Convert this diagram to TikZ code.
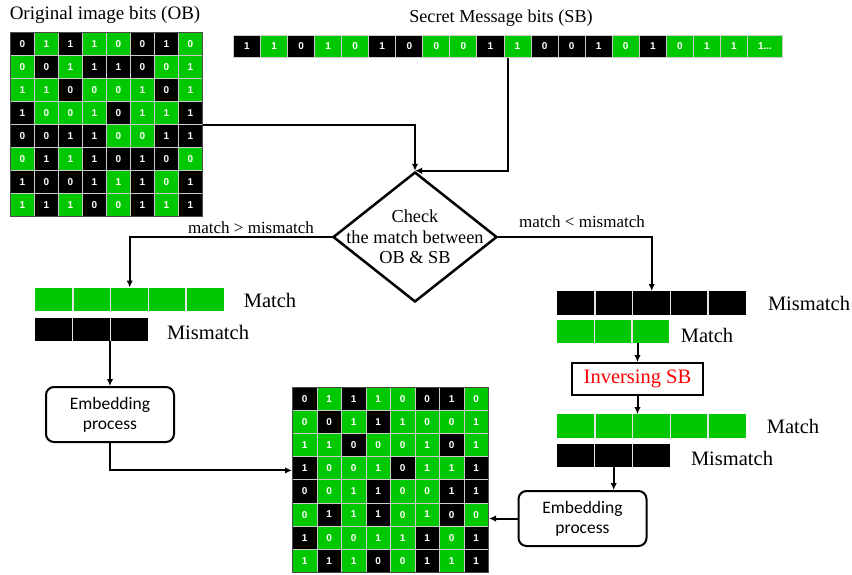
\documentclass[tikz,border=0pt]{standalone}
\usepackage{fontspec}
\setmainfont{Liberation Serif}
\newfontfamily\carlito{Carlito}
\newfontfamily\bitsans{Liberation Sans}
\usetikzlibrary{shapes.geometric,arrows.meta,calc}
\definecolor{cG}{RGB}{0,200,0}
\colorlet{cB}{black}
\tikzset{
  conn/.style={line width=2pt, -{Latex[length=7pt,width=6.5pt]}},
  bitcell/.style={draw=white!80!black, line width=1pt, inner sep=0pt, anchor=north west,
    text=white, font=\bitsans\bfseries\fontsize{10}{10}\selectfont},
  gridframe/.style={draw=black!70, line width=1pt, inner sep=0pt, anchor=north west},
  sbcell/.style={bitcell, minimum width=27.05pt, minimum height=22pt},
  bar/.style={inner sep=0pt, anchor=north west, minimum height=23.5pt},
  divider/.style={white!90!black, line width=1.5pt},
  lbl/.style={font=\fontsize{20.5}{24}\selectfont, inner sep=0pt},
  blbl/.style={font=\fontsize{17}{20}\selectfont, inner sep=0pt},
  embox/.style={draw, line width=2pt, rounded corners=8pt, minimum width=128pt, minimum height=55pt,
    inner sep=0pt, align=center, font=\carlito\fontsize{17.5}{20}\selectfont},
}
\newcommand{\drawbitgrid}[6]{%
  \foreach \row [count=\r] in {#6} {
    \foreach \v/\k [count=\c] in \row {
      \node[bitcell, fill=c\k, minimum width=#4pt, minimum height=#5pt] at ({#2+(\c-1)*#4},{#3+(\r-1)*#5}) {\v};
    }
  }
  \node[gridframe, minimum width=8*#4pt, minimum height=8*#5pt] (#1) at (#2,#3) {};
}
\begin{document}
\begin{tikzpicture}[x=1pt,y=-1pt]
\useasboundingbox (0,0) rectangle (852,574);
\fill[white] (0,0) rectangle (852,574);

% titles
\node[font=\fontsize{19}{22}\selectfont, inner sep=0pt] (obt) at (105,15) {Original image bits (OB)};
\node[font=\fontsize{18.2}{22}\selectfont, inner sep=0pt] (sbt) at (501,18) {Secret Message bits (SB)};

% original grid
\drawbitgrid{ob}{10}{32}{24}{23}{
 {0/B,1/G,1/B,1/G,0/G,0/B,1/B,0/G},
 {0/G,0/B,1/G,1/B,1/B,0/B,0/G,1/G},
 {1/G,1/G,0/B,0/G,0/G,1/G,0/B,1/G},
 {1/B,0/G,0/G,1/G,0/B,1/G,1/G,1/B},
 {0/B,0/B,1/B,1/B,0/G,0/G,1/B,1/B},
 {0/G,1/B,1/G,1/B,0/B,1/B,0/B,0/G},
 {1/B,0/B,0/B,1/B,1/G,1/B,0/G,1/B},
 {1/G,1/B,1/G,0/B,0/G,1/B,1/G,1/B}}

% output grid
\drawbitgrid{og}{292}{387}{24.5}{23.1}{
 {0/B,1/G,1/B,1/G,0/G,0/B,1/B,0/G},
 {0/G,0/B,1/G,1/B,1/G,0/G,0/G,1/G},
 {1/G,1/G,0/B,0/G,0/G,1/G,0/B,1/G},
 {1/B,0/G,0/G,1/G,0/B,1/G,1/G,1/B},
 {0/B,0/G,1/G,1/B,0/G,0/G,1/B,1/B},
 {0/G,1/B,1/G,1/B,0/G,1/G,0/B,0/G},
 {1/B,0/G,0/G,1/G,1/G,1/B,0/G,1/B},
 {1/G,1/B,1/G,0/B,0/G,1/B,1/G,1/B}}

% secret message strip
\foreach \v/\k [count=\i] in {1/B,1/G,0/B,1/G,0/G,1/B,0/B,0/G,0/G,1/B,1/G,0/B,0/B,1/B,0/G,1/B,0/G,1/G,1/G}
  \node[sbcell, fill=c\k] (sb\i) at ({233+(\i-1)*27.05},35) {\v};
\node[sbcell, fill=cG, minimum width=35pt] (sb20) at (747,35) {1...};

% decision diamond
\node[diamond, draw, line width=2.5pt, minimum width=164pt, minimum height=130pt, inner sep=0pt] (chk) at (415,237) {};
\node[align=center, font=\fontsize{18.3}{20.5}\selectfont, inner sep=0pt] (chkt) at (chk.center) {Check\\the match between\\OB \& SB};

\draw[conn] (ob.east) -| (chk.north);
\draw[conn] ([xshift=4.5pt]sb11.south west) |- (chk.north);

\node[blbl] (lcond) at (251,228) {match > mismatch};
\node[blbl] (rcond) at (582,222) {match < mismatch};

% left branch bars
\node[bar, fill=cG, minimum width=189pt] (lm) at (35,287.5) {};
\foreach \i in {1,...,4} \draw[divider] ([xshift=\i*37.8pt]lm.north west) -- ([xshift=\i*37.8pt]lm.south west);
\node[bar, fill=cB, minimum width=113pt] (lmm) at (35,317.5) {};
\foreach \i in {1,2} \draw[divider] ([xshift=\i*37.7pt]lmm.north west) -- ([xshift=\i*37.7pt]lmm.south west);
\node[lbl] (lmt) at (270,300) {Match};
\node[lbl] (lmmt) at (208,332) {Mismatch};

% right branch bars
\node[bar, fill=cB, minimum width=189pt] (rmm) at (557,291) {};
\foreach \i in {1,...,4} \draw[divider] ([xshift=\i*37.8pt]rmm.north west) -- ([xshift=\i*37.8pt]rmm.south west);
\node[bar, fill=cG, minimum width=112pt] (rm) at (557,319.5) {};
\foreach \i in {1,2} \draw[divider] ([xshift=\i*37.4pt]rm.north west) -- ([xshift=\i*37.4pt]rm.south west);
\node[lbl] (rmmt) at (809,303) {Mismatch};
\node[lbl] (rmt) at (707,335) {Match};

\node[draw, line width=2pt, minimum width=131pt, minimum height=32pt, inner sep=0pt, text=red,
  font=\fontsize{20.5}{24}\selectfont] (inv) at (637.5,379) {Inversing SB};

\node[bar, fill=cG, minimum width=189pt] (rm2) at (557,414) {};
\foreach \i in {1,...,4} \draw[divider] ([xshift=\i*37.8pt]rm2.north west) -- ([xshift=\i*37.8pt]rm2.south west);
\node[bar, fill=cB, minimum width=113pt] (rmm2) at (557,443.5) {};
\foreach \i in {1,2} \draw[divider] ([xshift=\i*37.7pt]rmm2.north west) -- ([xshift=\i*37.7pt]rmm2.south west);
\node[lbl] (rm2t) at (793,426) {Match};
\node[lbl] (rmm2t) at (732,458) {Mismatch};

% embedding boxes
\node[embox] (emb1) at (110,414.5) {Embedding\\process};
\node[embox] (emb2) at (582.5,518.5) {Embedding\\process};

% connectors
\draw[conn] (chk.west) -| (lm.north);
\draw[conn] (chk.east) -| (rmm.north);
\draw[conn] (emb1.north |- lmm.south) -- (emb1.north);
\draw[conn] (emb1.south) |- ([yshift=9.5pt]og.west);
\draw[conn] (inv.north |- rm.south) -- (inv.north);
\draw[conn] (inv.south) -- (inv.south |- rm2.north);
\draw[conn] (rmm2.south) -- (rmm2.south |- emb2.north);
\draw[conn] (emb2.west) -- (emb2.west -| og.east);
\end{tikzpicture}
\end{document}
